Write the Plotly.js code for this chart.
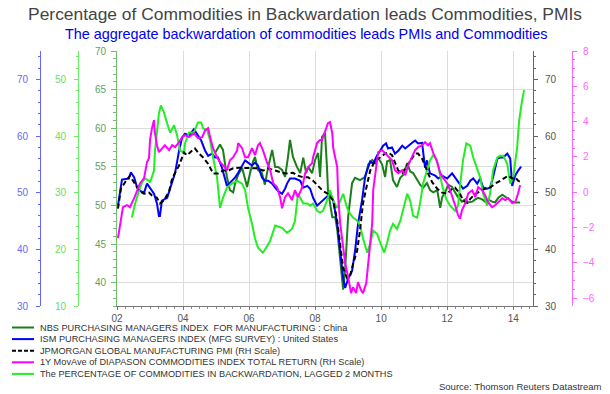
<!DOCTYPE html>
<html>
<head>
<meta charset="utf-8">
<script src="https://cdn.plot.ly/plotly-3.0.1.min.js"></script>
<style>html,body{margin:0;padding:0;background:#fff;}#chart{width:610px;height:394px;}</style>
</head>
<body>
<div id="chart"></div>
<script>
// ---- DATA (decimal year, value) ----
const seriesNames = [
  "NBS PURCHASING MANAGERS INDEX  FOR MANUFACTURING : China",
  "ISM PURCHASING MANAGERS INDEX (MFG SURVEY) : United States",
  "JPMORGAN GLOBAL MANUFACTURING PMI (RH Scale)",
  "1Y MovAve of DIAPASON COMMODITIES INDEX TOTAL RETURN (RH Scale)",
  "The PERCENTAGE OF COMMODITIES IN BACKWARDATION, LAGGED 2 MONTHS"
];
const xTickVals = [2002, 2004, 2006, 2008, 2010, 2012, 2014];
const xTickText = ["02", "04", "06", "08", "10", "12", "14"];

const nbsChina = [[2004.97,56.8],[2005.12,57.9],[2005.21,57.2],[2005.33,53.7],[2005.42,52.0],[2005.52,51.7],[2005.58,52.9],[2005.67,54.0],[2005.79,54.9],[2005.88,53.3],[2005.94,52.4],[2006.03,54.2],[2006.12,55.7],[2006.18,56.3],[2006.27,54.6],[2006.39,54.2],[2006.48,52.7],[2006.58,55.0],[2006.70,57.2],[2006.79,55.0],[2006.88,55.0],[2007.00,54.6],[2007.09,53.7],[2007.18,56.3],[2007.24,58.5],[2007.33,56.3],[2007.45,55.0],[2007.55,54.2],[2007.64,56.2],[2007.73,54.2],[2007.79,55.0],[2007.91,54.2],[2008.00,55.9],[2008.09,56.8],[2008.15,53.7],[2008.21,58.9],[2008.30,59.4],[2008.36,55.0],[2008.39,52.0],[2008.52,48.5],[2008.61,48.5],[2008.67,46.9],[2008.76,42.6],[2008.85,39.1],[2008.91,41.7],[2008.97,45.6],[2009.00,48.5],[2009.12,52.9],[2009.21,53.6],[2009.36,53.3],[2009.52,53.7],[2009.61,55.3],[2009.73,55.9],[2009.82,55.5],[2009.91,56.2],[2010.03,55.3],[2010.12,53.7],[2010.18,55.7],[2010.27,55.9],[2010.36,53.3],[2010.48,52.4],[2010.58,53.6],[2010.67,54.0],[2010.79,55.5],[2010.88,54.4],[2010.97,54.2],[2011.09,53.3],[2011.18,52.7],[2011.27,52.3],[2011.39,52.9],[2011.48,52.0],[2011.58,51.7],[2011.70,52.0],[2011.79,49.7],[2011.85,51.1],[2011.94,51.7],[2012.03,52.7],[2012.15,52.4],[2012.24,51.7],[2012.33,51.1],[2012.45,50.5],[2012.55,50.8],[2012.64,50.4],[2012.76,50.5],[2012.85,50.8],[2012.94,51.0],[2013.06,50.8],[2013.15,50.5],[2013.24,50.8],[2013.36,50.5],[2013.45,50.4],[2013.55,51.0],[2013.67,51.4],[2013.76,51.1],[2013.85,50.8],[2013.97,50.5],[2014.06,50.4],[2014.21,50.4]];

const ismUS = [[2002.03,47.7],[2002.15,52.3],[2002.36,52.5],[2002.42,53.6],[2002.52,52.7],[2002.61,50.9],[2002.70,50.3],[2002.82,50.0],[2002.91,51.6],[2003.00,50.9],[2003.12,49.8],[2003.21,48.1],[2003.27,45.9],[2003.30,45.9],[2003.36,48.6],[2003.52,49.1],[2003.67,52.1],[2003.76,53.5],[2003.88,57.4],[2003.97,59.7],[2004.06,60.4],[2004.18,60.1],[2004.33,61.2],[2004.42,60.4],[2004.55,59.2],[2004.67,57.4],[2004.76,56.5],[2004.88,56.9],[2004.97,56.2],[2005.06,56.2],[2005.18,54.4],[2005.33,51.2],[2005.48,52.1],[2005.58,52.7],[2005.67,53.5],[2005.79,54.8],[2005.88,55.7],[2005.97,55.3],[2006.09,54.8],[2006.18,55.3],[2006.27,54.8],[2006.39,52.7],[2006.48,52.1],[2006.58,52.1],[2006.70,51.6],[2006.79,50.9],[2006.88,50.3],[2007.00,49.8],[2007.09,50.7],[2007.15,51.6],[2007.24,52.5],[2007.39,52.5],[2007.55,52.1],[2007.64,50.9],[2007.76,51.2],[2007.85,50.7],[2007.94,49.1],[2008.06,47.7],[2008.15,48.2],[2008.30,48.9],[2008.45,49.8],[2008.55,48.6],[2008.67,44.5],[2008.76,39.7],[2008.85,34.9],[2008.91,33.2],[2009.00,34.8],[2009.12,36.2],[2009.21,39.7],[2009.30,44.5],[2009.42,48.6],[2009.52,53.0],[2009.67,55.5],[2009.76,55.1],[2009.88,56.6],[2009.97,57.4],[2010.06,58.3],[2010.15,58.7],[2010.21,57.8],[2010.33,58.0],[2010.42,56.9],[2010.52,57.4],[2010.64,58.3],[2010.73,57.8],[2010.82,58.3],[2010.94,58.8],[2011.03,59.2],[2011.12,58.7],[2011.24,58.8],[2011.33,54.4],[2011.39,55.7],[2011.48,53.4],[2011.64,53.0],[2011.73,52.5],[2011.85,53.0],[2012.00,52.5],[2012.15,53.4],[2012.24,52.7],[2012.39,51.6],[2012.48,50.7],[2012.61,51.2],[2012.70,52.1],[2012.79,52.5],[2012.91,51.6],[2013.00,52.5],[2013.09,50.9],[2013.21,50.7],[2013.30,50.9],[2013.39,52.7],[2013.52,56.0],[2013.61,56.2],[2013.70,56.2],[2013.82,56.9],[2013.91,56.0],[2013.97,51.2],[2014.06,53.0],[2014.15,53.9],[2014.24,54.6]];

const jpmGlobal = [[2002.03,47.2],[2002.12,50.7],[2002.24,51.8],[2002.39,53.0],[2002.52,51.8],[2002.67,50.3],[2002.82,49.8],[2002.97,50.0],[2003.06,49.5],[2003.21,49.1],[2003.30,48.1],[2003.42,48.6],[2003.58,50.3],[2003.67,52.5],[2003.76,53.5],[2003.88,54.8],[2004.03,57.1],[2004.12,56.6],[2004.27,57.4],[2004.36,57.8],[2004.48,56.9],[2004.61,56.2],[2004.76,55.1],[2004.91,53.4],[2005.06,53.4],[2005.21,53.9],[2005.36,53.9],[2005.52,54.3],[2005.67,54.4],[2005.82,54.4],[2005.97,54.4],[2006.12,54.4],[2006.27,54.3],[2006.42,53.9],[2006.58,54.3],[2006.79,53.9],[2007.00,53.5],[2007.15,53.4],[2007.33,53.5],[2007.48,53.0],[2007.64,52.7],[2007.79,52.7],[2007.94,52.1],[2008.09,51.2],[2008.24,50.3],[2008.39,49.8],[2008.55,48.6],[2008.67,45.0],[2008.76,41.0],[2008.85,36.7],[2008.97,34.9],[2009.06,35.3],[2009.15,37.4],[2009.27,39.7],[2009.36,43.3],[2009.45,48.1],[2009.58,51.6],[2009.67,53.9],[2009.82,55.7],[2009.97,56.2],[2010.12,56.9],[2010.21,57.1],[2010.33,56.6],[2010.42,55.3],[2010.52,53.9],[2010.64,53.5],[2010.73,54.3],[2010.82,55.1],[2010.94,56.0],[2011.03,56.9],[2011.12,56.9],[2011.24,56.0],[2011.33,54.8],[2011.42,53.4],[2011.55,51.8],[2011.70,50.7],[2011.85,50.0],[2012.00,49.8],[2012.15,50.7],[2012.24,50.9],[2012.39,49.8],[2012.48,48.6],[2012.61,48.2],[2012.70,48.9],[2012.85,49.8],[2013.00,50.3],[2013.15,50.7],[2013.30,50.9],[2013.45,51.6],[2013.61,52.1],[2013.76,52.7],[2013.85,53.0],[2013.97,52.5],[2014.06,52.7],[2014.15,52.1],[2014.24,51.8]];

const diapasonMA = [[2002.03,-2.60],[2002.18,-0.85],[2002.30,-0.73],[2002.39,-0.85],[2002.52,-0.34],[2002.61,0.11],[2002.70,0.51],[2002.82,0.80],[2002.85,1.13],[2002.91,1.70],[2002.97,1.93],[2003.00,2.95],[2003.06,3.63],[2003.12,4.08],[2003.15,3.34],[2003.21,2.66],[2003.27,2.27],[2003.36,2.49],[2003.45,2.66],[2003.58,2.38],[2003.67,2.66],[2003.76,2.55],[2003.88,2.83],[2003.97,3.12],[2004.06,3.23],[2004.18,3.12],[2004.33,3.34],[2004.45,3.06],[2004.58,3.12],[2004.67,3.51],[2004.76,3.63],[2004.82,3.12],[2004.91,2.49],[2005.03,1.98],[2005.12,1.70],[2005.21,1.53],[2005.33,1.25],[2005.42,1.81],[2005.52,1.98],[2005.64,2.38],[2005.67,2.78],[2005.79,2.49],[2005.88,1.98],[2005.97,1.98],[2006.09,2.49],[2006.18,2.10],[2006.27,2.66],[2006.33,2.78],[2006.42,2.38],[2006.55,1.64],[2006.64,1.25],[2006.73,0.51],[2006.85,0.28],[2006.94,-0.28],[2007.00,-0.91],[2007.09,-0.28],[2007.18,-0.06],[2007.30,-0.45],[2007.39,0.11],[2007.48,-0.28],[2007.61,0.28],[2007.70,1.08],[2007.79,1.42],[2007.91,1.64],[2007.94,1.98],[2008.06,2.78],[2008.15,2.95],[2008.21,2.95],[2008.30,3.40],[2008.39,3.91],[2008.45,3.97],[2008.52,3.34],[2008.55,2.49],[2008.67,1.42],[2008.70,-0.28],[2008.76,-1.75],[2008.85,-3.11],[2008.91,-4.02],[2009.00,-4.81],[2009.09,-5.72],[2009.15,-5.38],[2009.24,-5.72],[2009.30,-5.10],[2009.39,-5.55],[2009.45,-5.72],[2009.55,-5.15],[2009.61,-4.02],[2009.73,-1.75],[2009.76,0.11],[2009.88,1.64],[2009.91,2.27],[2010.03,2.38],[2010.12,2.21],[2010.21,1.98],[2010.33,1.81],[2010.42,1.25],[2010.52,1.08],[2010.64,1.25],[2010.73,0.96],[2010.82,1.53],[2010.94,1.98],[2011.03,2.38],[2011.12,2.55],[2011.24,2.66],[2011.33,2.83],[2011.42,2.66],[2011.48,2.78],[2011.58,2.21],[2011.70,1.70],[2011.79,1.08],[2011.88,0.80],[2012.00,0.51],[2012.09,0.11],[2012.18,-0.34],[2012.24,-0.73],[2012.33,-1.30],[2012.39,-1.50],[2012.45,-1.02],[2012.55,-0.62],[2012.64,-0.06],[2012.76,0.11],[2012.85,-0.28],[2012.94,0.28],[2013.06,0.11],[2013.15,-0.17],[2013.24,-0.57],[2013.36,-0.85],[2013.45,-0.74],[2013.55,-0.57],[2013.67,-0.34],[2013.76,-0.45],[2013.85,-0.34],[2013.97,-0.62],[2014.06,-0.57],[2014.15,-0.06],[2014.21,0.40]];

const backwardationPct = [[2002.45,25.6],[2002.55,28.1],[2002.67,30.4],[2002.76,31.8],[2002.85,32.5],[2002.97,32.1],[2003.00,31.8],[2003.06,32.7],[2003.12,33.9],[2003.15,37.4],[2003.21,41.0],[2003.27,44.0],[2003.33,45.4],[2003.42,44.2],[2003.52,42.2],[2003.61,40.6],[2003.73,41.9],[2003.82,40.1],[2003.91,37.4],[2004.03,37.1],[2004.06,38.7],[2004.18,40.6],[2004.33,40.6],[2004.45,42.4],[2004.55,42.4],[2004.61,41.3],[2004.73,41.0],[2004.82,39.2],[2004.91,36.2],[2005.03,32.7],[2005.12,27.3],[2005.21,29.1],[2005.33,30.9],[2005.48,31.6],[2005.64,32.1],[2005.79,31.6],[2005.88,30.4],[2005.97,27.3],[2006.09,24.5],[2006.18,21.9],[2006.27,20.3],[2006.42,19.4],[2006.55,20.6],[2006.64,21.5],[2006.79,24.2],[2007.00,23.8],[2007.15,22.9],[2007.30,23.6],[2007.39,25.0],[2007.48,29.8],[2007.55,29.1],[2007.64,28.1],[2007.76,28.1],[2007.85,27.7],[2007.94,28.1],[2008.06,26.8],[2008.15,26.5],[2008.24,26.8],[2008.36,28.6],[2008.45,30.4],[2008.55,28.6],[2008.67,27.3],[2008.76,28.6],[2008.85,29.8],[2008.97,27.3],[2009.06,26.3],[2009.15,25.6],[2009.27,25.1],[2009.36,24.2],[2009.45,22.0],[2009.58,19.4],[2009.67,21.0],[2009.76,23.3],[2009.88,22.7],[2010.03,20.3],[2010.09,19.4],[2010.18,21.1],[2010.27,23.3],[2010.36,24.5],[2010.48,23.6],[2010.58,25.0],[2010.67,27.2],[2010.79,29.8],[2010.88,28.6],[2010.97,25.9],[2011.09,25.6],[2011.18,28.1],[2011.27,31.6],[2011.39,33.9],[2011.48,35.7],[2011.58,36.6],[2011.67,36.0],[2011.76,33.9],[2011.85,31.2],[2011.97,28.9],[2012.09,27.7],[2012.24,26.8],[2012.33,27.7],[2012.39,31.2],[2012.48,35.7],[2012.58,38.7],[2012.70,38.3],[2012.79,36.2],[2012.91,34.2],[2013.00,32.7],[2013.09,29.8],[2013.21,27.7],[2013.30,29.8],[2013.39,33.9],[2013.52,36.2],[2013.61,36.5],[2013.70,36.5],[2013.82,35.1],[2013.91,31.6],[2014.00,32.7],[2014.12,38.0],[2014.18,42.7],[2014.27,46.3],[2014.33,48.1]];

// ---- STYLE ----
const FONT = "Liberation Sans, Arial, sans-serif";
const W = 610, H = 394;
const plotL = 117, plotR = 533, plotT = 51, plotB = 306;
const px = v => v / W;
const py = v => 1 - v / H;

const lineColors = ["#1a7f1a", "#0000ff", "#000000", "#ff00ff", "#22ee22"];
const dashes = ["solid", "solid", "5px,3px", "solid", "solid"];
const sets = [nbsChina, ismUS, jpmGlobal, diapasonMA, backwardationPct];
const axesFor = ["y", "y2", "y4", "y5", "y3"];

const traces = sets.map((s, i) => ({
  type: "scatter", mode: "lines",
  x: s.map(p => p[0]), y: s.map(p => p[1]),
  yaxis: axesFor[i], name: seriesNames[i],
  line: {color: lineColors[i], width: 2, dash: dashes[i]},
  hoverinfo: "skip"
}));
// draw order: light green underneath
const order = [4, 3, 0, 1, 2];
const data = order.map(i => traces[i]);

function yAx(opts) {
  return Object.assign({
    showgrid: false, zeroline: false, showline: true, linewidth: 1,
    ticks: "outside", ticklen: 4, tickwidth: 1,
    tickfont: {family: FONT, size: 10},
    fixedrange: true
  }, opts);
}

const shapes = [], annotations = [];
seriesNames.forEach((n, i) => {
  const yy = 327.5 + i * 11.6;
  shapes.push({type: "line", xref: "paper", yref: "paper",
    x0: px(12), x1: px(34), y0: py(yy), y1: py(yy),
    line: {color: lineColors[i], width: 2, dash: i === 2 ? "4px,2px" : "solid"}});
  annotations.push({xref: "paper", yref: "paper", x: px(38), y: py(yy),
    xanchor: "left", yanchor: "middle", showarrow: false, text: n,
    font: {family: FONT, size: 9.2, color: "#333"}});
});
annotations.push({xref: "paper", yref: "paper", x: px(306), y: py(34),
  xanchor: "center", yanchor: "middle", showarrow: false,
  text: "The aggregate backwardation of commodities leads PMIs and Commodities",
  font: {family: FONT, size: 14.4, color: "#0000ee"}});
annotations.push({xref: "paper", yref: "paper", x: px(604), y: py(386),
  xanchor: "right", yanchor: "middle", showarrow: false,
  text: "Source: Thomson Reuters Datastream",
  font: {family: FONT, size: 9.5, color: "#333"}});

const layout = {
  width: W, height: H,
  margin: {l: 0, r: 0, t: 0, b: 0, autoexpand: false},
  paper_bgcolor: "#fff", plot_bgcolor: "#fff",
  showlegend: false,
  title: {text: "Percentage of Commodities in Backwardation leads Commodities, PMIs",
    x: 0.5, xanchor: "center", y: py(14), yref: "paper", yanchor: "middle",
    font: {family: FONT, size: 17.4, color: "#444"}},
  xaxis: {
    domain: [px(plotL), px(plotR)], range: [2002, 2014.6],
    tickmode: "array", tickvals: xTickVals, ticktext: xTickText,
    showgrid: true, gridcolor: "#dcdcdc", gridwidth: 1,
    showline: true, linecolor: "#777", linewidth: 1,
    ticks: "outside", ticklen: 3, tickcolor: "#777",
    minor: {tick0: 2002, dtick: 0.25, ticks: "outside", ticklen: 2, tickcolor: "#888", showgrid: false},
    tickfont: {family: FONT, size: 10, color: "#555"}, ticklabelstandoff: 0,
    zeroline: false, fixedrange: true
  },
  yaxis: yAx({
    domain: [1 - plotB / H, 1 - plotT / H], range: [37, 70], anchor: "x", side: "left",
    dtick: 5, tick0: 0, showgrid: true, gridcolor: "#dcdcdc",
    linecolor: "#6fbf6f", tickcolor: "#6fbf6f", ticklen: 5,
    minor: {dtick: 1, ticks: "outside", ticklen: 3, tickcolor: "#6fbf6f"},
    tickfont: {family: FONT, size: 10, color: "#5f9f5f"}, ticklabelstandoff: 3
  }),
  yaxis2: yAx({
    overlaying: "y", anchor: "free", position: px(40), side: "left",
    range: [30, 75], dtick: 10, tick0: 0,
    linecolor: "#6464ff", tickcolor: "#6464ff",
    minor: {dtick: 2, ticks: "outside", ticklen: 2, tickcolor: "#6464ff"},
    tickfont: {family: FONT, size: 10, color: "#6b6bf0"}, ticklabelstandoff: 6
  }),
  yaxis3: yAx({
    overlaying: "y", anchor: "free", position: px(78), side: "left",
    range: [10, 55], dtick: 10, tick0: 0,
    linecolor: "#66ee66", tickcolor: "#66ee66",
    minor: {dtick: 2, ticks: "outside", ticklen: 2, tickcolor: "#66ee66"},
    tickfont: {family: FONT, size: 10, color: "#66dd66"}, ticklabelstandoff: 6
  }),
  yaxis4: yAx({
    overlaying: "y", anchor: "x", side: "right",
    range: [30, 75], dtick: 10, tick0: 0,
    linecolor: "#666", tickcolor: "#666",
    minor: {dtick: 2, ticks: "outside", ticklen: 2, tickcolor: "#666"},
    tickfont: {family: FONT, size: 10, color: "#555"}, ticklabelstandoff: 5
  }),
  yaxis5: yAx({
    overlaying: "y", anchor: "free", position: px(572), side: "right",
    range: [-6.45, 8], dtick: 2, tick0: 0,
    linecolor: "#ff66ff", tickcolor: "#ff66ff",
    minor: {dtick: 0.5, ticks: "outside", ticklen: 2, tickcolor: "#ff66ff"},
    tickfont: {family: FONT, size: 10, color: "#ff66ff"}, ticklabelstandoff: 4
  }),
  shapes: shapes,
  annotations: annotations
};

Plotly.newPlot("chart", data, layout, {staticPlot: true, displayModeBar: false});
</script>
</body>
</html>
